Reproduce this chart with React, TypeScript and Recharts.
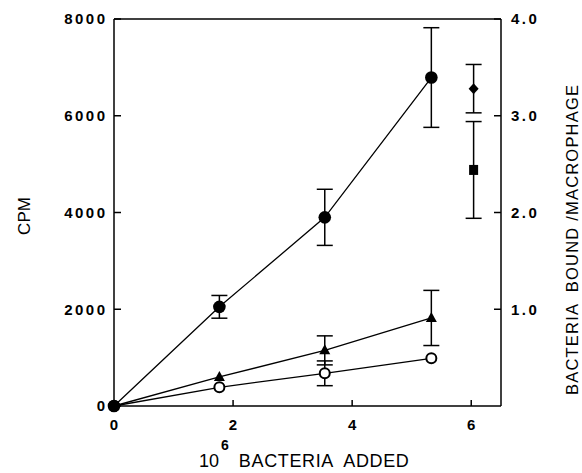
import React from 'react';
import {
  ComposedChart,
  Line,
  Scatter,
  ErrorBar,
  XAxis,
  YAxis,
  ReferenceLine,
} from 'recharts';

// 10^6 bacteria added
const bacteriaAdded = [0, 1.77, 3.54, 5.33];

// CPM, filled circles
const cpmFilled = [0, 2050, 3900, 6790];
const cpmFilledErr = [0, 235, 580, 1030];

// CPM, filled triangles
const cpmTriangle = [0, 600, 1150, 1820];
const cpmTriangleErr = [0, 0, 300, 570];

// CPM, open circles
const cpmOpen = [0, 387, 676, 986];
const cpmOpenErr = [0, 0, 256, 0];

// bacteria bound / macrophage (right axis), single points at the far right
const singleX = [6.04];
const boundDiamond = [3.28];
const boundDiamondErr = [0.25];
const boundSquare = [2.44];
const boundSquareErr = [0.5];

const cpmTicks = [0, 2000, 4000, 6000, 8000];
const boundTicks = [1, 2, 3, 4];
const xTicks = [0, 2, 4, 6];

const rows = bacteriaAdded.map((x, i) => ({
  x,
  filled: cpmFilled[i],
  filledErr: cpmFilledErr[i],
  tri: cpmTriangle[i],
  triErr: cpmTriangleErr[i],
  open: cpmOpen[i],
  openErr: cpmOpenErr[i],
}));

const diamondRows = singleX.map((x, i) => ({ x, y: boundDiamond[i], err: boundDiamondErr[i] }));
const squareRows = singleX.map((x, i) => ({ x, y: boundSquare[i], err: boundSquareErr[i] }));

const FONT = '"Liberation Sans", Arial, Helvetica, sans-serif';
const tickText = {
  fontFamily: FONT,
  fontWeight: 700,
  fontSize: 15,
  letterSpacing: 2.5,
  fill: '#000',
};

const LeftTick = (props: any) => {
  const { x, y, payload } = props;
  return (
    <g>
      <line x1={x + 9} x2={x + 16} y1={y} y2={y} stroke="#000" strokeWidth={1.5} />
      <text x={x + 2.5} y={y} dy={5.3} textAnchor="end" {...tickText}>
        {payload.value}
      </text>
    </g>
  );
};

const RightTick = (props: any) => {
  const { x, y, payload } = props;
  return (
    <g>
      <line x1={x - 17} x2={x - 10} y1={y} y2={y} stroke="#000" strokeWidth={1.5} />
      <text x={x} y={y} dy={5.3} textAnchor="start" {...tickText}>
        {Number(payload.value).toFixed(1)}
      </text>
    </g>
  );
};

const BottomTick = (props: any) => {
  const { x, y, payload } = props;
  return (
    <g>
      <line x1={x} x2={x} y1={y - 18} y2={y - 24} stroke="#000" strokeWidth={1.5} />
      <text x={x + 1.2} y={y} dy={5.5} textAnchor="middle" {...tickText}>
        {payload.value}
      </text>
    </g>
  );
};

const filledDot = (p: any) => (
  <circle key={`f${p.index}`} cx={p.cx} cy={p.cy} r={6.3} fill="#000" />
);
const openDot = (p: any) => (
  <circle key={`o${p.index}`} cx={p.cx} cy={p.cy} r={5} fill="#fff" stroke="#000" strokeWidth={2} />
);
const triDot = (p: any) => (
  <path
    key={`t${p.index}`}
    d={`M${p.cx},${p.cy - 6}L${p.cx + 5.5},${p.cy + 4}L${p.cx - 5.5},${p.cy + 4}Z`}
    fill="#000"
  />
);
const diamondShape = (p: any) => (
  <path
    d={`M${p.cx},${p.cy - 5.5}L${p.cx + 5},${p.cy}L${p.cx},${p.cy + 5.5}L${p.cx - 5},${p.cy}Z`}
    fill="#000"
  />
);
const squareShape = (p: any) => (
  <rect x={p.cx - 4.5} y={p.cy - 5} width={9} height={10} fill="#000" />
);

// axis titles, drawn over the chart
function Titles() {
  return (
    <svg
      width={582}
      height={473}
      style={{ position: 'absolute', left: 0, top: 0, pointerEvents: 'none' }}
    >
      <text
        transform="translate(30,216) rotate(-90)"
        textAnchor="middle"
        fontFamily={FONT}
        fontSize={17}
        fill="#000"
      >
        CPM
      </text>
      <text
        transform="translate(578,240) rotate(-90)"
        textAnchor="middle"
        fontFamily={FONT}
        fontSize={16.5}
        textLength={310}
        lengthAdjust="spacing"
        fill="#000"
        style={{ whiteSpace: 'pre' }}
      >
        {'BACTERIA  BOUND /MACROPHAGE'}
      </text>
      <text x={199} y={467} fontFamily={FONT} fontSize={18} fill="#000" style={{ whiteSpace: 'pre' }}>
        10
        <tspan dx={2} dy={-17} fontSize={14} fontWeight={700}>
          6
        </tspan>
        <tspan dx={10} dy={17} textLength={170} lengthAdjust="spacing">
          {'BACTERIA  ADDED'}
        </tspan>
      </text>
    </svg>
  );
}

export default function App() {
  return (
    <div style={{ position: 'absolute', left: 0, top: 0, width: 582, height: 473, background: '#fff' }}>
      <ComposedChart
        width={582}
        height={473}
        data={rows}
        margin={{ top: 19, right: 21, bottom: 37, left: 54 }}
      >
        <XAxis
          dataKey="x"
          type="number"
          domain={[0, 6.5]}
          ticks={xTicks}
          tickLine={false}
          tickSize={0}
          tickMargin={18}
          tick={<BottomTick />}
          axisLine={{ stroke: '#000', strokeWidth: 1.5 }}
          height={30}
        />
        <YAxis
          yAxisId="left"
          orientation="left"
          type="number"
          domain={[0, 8000]}
          ticks={cpmTicks}
          tickLine={false}
          tickSize={0}
          tickMargin={9}
          tick={<LeftTick />}
          axisLine={{ stroke: '#000', strokeWidth: 1.5 }}
          width={60}
        />
        <YAxis
          yAxisId="right"
          orientation="right"
          type="number"
          domain={[0, 4]}
          ticks={boundTicks}
          tickLine={false}
          tickSize={0}
          tickMargin={10}
          tick={<RightTick />}
          axisLine={{ stroke: '#000', strokeWidth: 1.5 }}
          width={60}
        />
        <ReferenceLine yAxisId="left" y={8000} stroke="#000" strokeWidth={1.5} />
        <Line
          yAxisId="left"
          type="linear"
          dataKey="open"
          stroke="#000"
          strokeWidth={1.3}
          dot={openDot}
          activeDot={false}
          isAnimationActive={false}
        >
          <ErrorBar dataKey="openErr" width={8} stroke="#000" strokeWidth={1.5} direction="y" />
        </Line>
        <Line
          yAxisId="left"
          type="linear"
          dataKey="tri"
          stroke="#000"
          strokeWidth={1.3}
          dot={triDot}
          activeDot={false}
          isAnimationActive={false}
        >
          <ErrorBar dataKey="triErr" width={8} stroke="#000" strokeWidth={1.5} direction="y" />
        </Line>
        <Line
          yAxisId="left"
          type="linear"
          dataKey="filled"
          stroke="#000"
          strokeWidth={1.3}
          dot={filledDot}
          activeDot={false}
          isAnimationActive={false}
        >
          <ErrorBar dataKey="filledErr" width={8} stroke="#000" strokeWidth={1.5} direction="y" />
        </Line>
        <Scatter
          yAxisId="right"
          data={diamondRows}
          dataKey="y"
          shape={diamondShape}
          isAnimationActive={false}
        >
          <ErrorBar dataKey="err" width={8} stroke="#000" strokeWidth={1.5} direction="y" />
        </Scatter>
        <Scatter
          yAxisId="right"
          data={squareRows}
          dataKey="y"
          shape={squareShape}
          isAnimationActive={false}
        >
          <ErrorBar dataKey="err" width={8} stroke="#000" strokeWidth={1.5} direction="y" />
        </Scatter>
      </ComposedChart>
      <Titles />
    </div>
  );
}
